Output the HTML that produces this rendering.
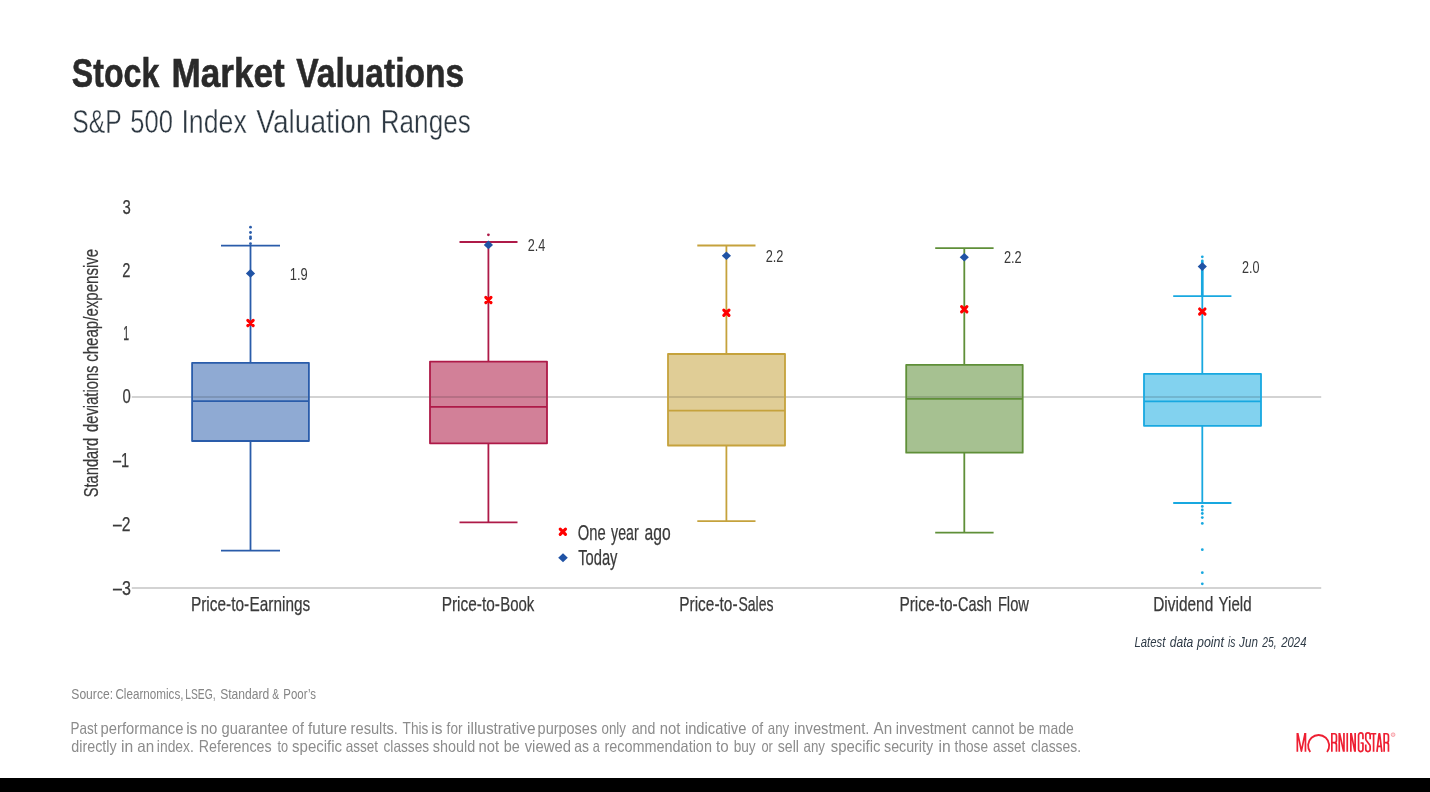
<!DOCTYPE html>
<html lang="en">
<head>
<meta charset="utf-8">
<title>Stock Market Valuations</title>
<style>
html,body{margin:0;padding:0;background:#fff;}
body{width:1430px;height:792px;overflow:hidden;position:relative;font-family:'Liberation Sans', sans-serif;}
svg{position:absolute;left:0;top:0;display:block;will-change:transform;}
svg text{font-family:'Liberation Sans', sans-serif;white-space:pre;}
#bar{position:absolute;left:0;top:778px;width:1430px;height:14px;background:#000;}
</style>
</head>
<body>
<svg width="1430" height="792" viewBox="0 0 1430 792">
<line x1="131.8" x2="1321.2" y1="397.0" y2="397.0" stroke="#d3d3d3" stroke-width="2"/>
<line x1="131.8" x2="1321.2" y1="588.1" y2="588.1" stroke="#d3d3d3" stroke-width="2"/>
<line x1="250.5" x2="250.5" y1="245.7" y2="362.8" stroke="#2a5caa" stroke-width="1.8"/>
<line x1="250.5" x2="250.5" y1="441" y2="550.6" stroke="#2a5caa" stroke-width="1.8"/>
<line x1="221" x2="280" y1="245.7" y2="245.7" stroke="#2a5caa" stroke-width="1.8"/>
<line x1="221" x2="280" y1="550.6" y2="550.6" stroke="#2a5caa" stroke-width="1.8"/>
<rect x="192.1" y="362.8" width="116.8" height="78.2" fill="#8faad3" stroke="#2a5caa" stroke-width="1.8" stroke-linejoin="round"/>
<line x1="193.1" x2="307.9" y1="397.0" y2="397.0" stroke="#000" stroke-opacity="0.13" stroke-width="2"/>
<line x1="192.1" x2="308.9" y1="401.2" y2="401.2" stroke="#2a5caa" stroke-width="1.8"/>
<line x1="488.4" x2="488.4" y1="242.0" y2="361.6" stroke="#ae1a48" stroke-width="1.8"/>
<line x1="488.4" x2="488.4" y1="443.3" y2="522.4" stroke="#ae1a48" stroke-width="1.8"/>
<line x1="459.5" x2="517.5" y1="242.0" y2="242.0" stroke="#ae1a48" stroke-width="1.8"/>
<line x1="459.5" x2="517.5" y1="522.4" y2="522.4" stroke="#ae1a48" stroke-width="1.8"/>
<rect x="430" y="361.6" width="117.0" height="81.7" fill="#d28098" stroke="#ae1a48" stroke-width="1.8" stroke-linejoin="round"/>
<line x1="431" x2="546" y1="397.0" y2="397.0" stroke="#000" stroke-opacity="0.13" stroke-width="2"/>
<line x1="430" x2="547" y1="406.8" y2="406.8" stroke="#ae1a48" stroke-width="1.8"/>
<line x1="726.4" x2="726.4" y1="245.5" y2="354.0" stroke="#c5a23c" stroke-width="1.8"/>
<line x1="726.4" x2="726.4" y1="445.5" y2="521.2" stroke="#c5a23c" stroke-width="1.8"/>
<line x1="697.3" x2="755.5" y1="245.5" y2="245.5" stroke="#c5a23c" stroke-width="1.8"/>
<line x1="697.3" x2="755.5" y1="521.2" y2="521.2" stroke="#c5a23c" stroke-width="1.8"/>
<rect x="668" y="354.0" width="117.0" height="91.5" fill="#e0cd96" stroke="#c5a23c" stroke-width="1.8" stroke-linejoin="round"/>
<line x1="669" x2="784" y1="397.0" y2="397.0" stroke="#000" stroke-opacity="0.13" stroke-width="2"/>
<line x1="668" x2="785" y1="410.6" y2="410.6" stroke="#c5a23c" stroke-width="1.8"/>
<line x1="964.3" x2="964.3" y1="248.2" y2="364.8" stroke="#5f8f38" stroke-width="1.8"/>
<line x1="964.3" x2="964.3" y1="452.7" y2="532.7" stroke="#5f8f38" stroke-width="1.8"/>
<line x1="935.2" x2="993.6" y1="248.2" y2="248.2" stroke="#5f8f38" stroke-width="1.8"/>
<line x1="935.2" x2="993.6" y1="532.7" y2="532.7" stroke="#5f8f38" stroke-width="1.8"/>
<rect x="906.2" y="364.8" width="116.5" height="87.9" fill="#a6c191" stroke="#5f8f38" stroke-width="1.8" stroke-linejoin="round"/>
<line x1="907.2" x2="1021.7" y1="397.0" y2="397.0" stroke="#000" stroke-opacity="0.13" stroke-width="2"/>
<line x1="906.2" x2="1022.7" y1="398.9" y2="398.9" stroke="#5f8f38" stroke-width="1.8"/>
<line x1="1202.3" x2="1202.3" y1="296.1" y2="373.9" stroke="#18a8e0" stroke-width="1.8"/>
<line x1="1202.3" x2="1202.3" y1="425.8" y2="503.0" stroke="#18a8e0" stroke-width="1.8"/>
<line x1="1173.2" x2="1231.4" y1="296.1" y2="296.1" stroke="#18a8e0" stroke-width="1.8"/>
<line x1="1173.2" x2="1231.4" y1="503.0" y2="503.0" stroke="#18a8e0" stroke-width="1.8"/>
<rect x="1144" y="373.9" width="117.0" height="51.9" fill="#82d2ef" stroke="#18a8e0" stroke-width="1.8" stroke-linejoin="round"/>
<line x1="1145" x2="1260" y1="397.0" y2="397.0" stroke="#000" stroke-opacity="0.13" stroke-width="2"/>
<line x1="1144" x2="1261" y1="401.3" y2="401.3" stroke="#18a8e0" stroke-width="1.8"/>
<circle cx="250.5" cy="227.2" r="1.4" fill="#2a5caa"/>
<circle cx="250.5" cy="232.5" r="1.4" fill="#2a5caa"/>
<circle cx="250.5" cy="237.0" r="1.4" fill="#2a5caa"/>
<circle cx="250.5" cy="238.6" r="1.4" fill="#2a5caa"/>
<circle cx="250.5" cy="243.7" r="1.4" fill="#2a5caa"/>
<circle cx="488.4" cy="234.8" r="1.4" fill="#ae1a48"/>
<circle cx="1202.3" cy="256.8" r="1.4" fill="#18a8e0"/>
<line x1="1202.3" x2="1202.3" y1="260.8" y2="296" stroke="#18a8e0" stroke-width="2.7" stroke-linecap="round"/>
<circle cx="1202.3" cy="506.4" r="1.4" fill="#18a8e0"/>
<circle cx="1202.3" cy="510.0" r="1.4" fill="#18a8e0"/>
<circle cx="1202.3" cy="513.5" r="1.4" fill="#18a8e0"/>
<circle cx="1202.3" cy="517.6" r="1.4" fill="#18a8e0"/>
<circle cx="1202.3" cy="523.4" r="1.4" fill="#18a8e0"/>
<circle cx="1202.3" cy="549.7" r="1.4" fill="#18a8e0"/>
<circle cx="1202.3" cy="572.7" r="1.4" fill="#18a8e0"/>
<circle cx="1202.3" cy="583.8" r="1.4" fill="#18a8e0"/>
<path d="M247.8,320.3L253.2,325.6M247.8,325.6L253.2,320.3" stroke="#ff0000" stroke-width="3.1" stroke-linecap="round" fill="none"/>
<path d="M485.8,297.4L491.0,302.6M485.8,302.6L491.0,297.4" stroke="#ff0000" stroke-width="3.1" stroke-linecap="round" fill="none"/>
<path d="M723.8,310.1L729.0,315.3M723.8,315.3L729.0,310.1" stroke="#ff0000" stroke-width="3.1" stroke-linecap="round" fill="none"/>
<path d="M961.6,306.7L966.9,311.9M961.6,311.9L966.9,306.7" stroke="#ff0000" stroke-width="3.1" stroke-linecap="round" fill="none"/>
<path d="M1199.6,309.0L1205.0,314.2M1199.6,314.2L1205.0,309.0" stroke="#ff0000" stroke-width="3.1" stroke-linecap="round" fill="none"/>
<path d="M250.5,269.1L255.1,273.45L250.5,277.8L245.9,273.45Z" fill="#2053a5"/>
<path d="M488.4,240.6L493.0,244.9L488.4,249.2L483.8,244.9Z" fill="#2053a5"/>
<path d="M726.4,251.4L731.0,255.7L726.4,260.0L721.8,255.7Z" fill="#2053a5"/>
<path d="M964.3,253.0L968.9,257.3L964.3,261.6L959.7,257.3Z" fill="#2053a5"/>
<path d="M1202.3,262.3L1206.9,266.6L1202.3,270.9L1197.7,266.6Z" fill="#2053a5"/>
<text x="289.83" y="279.70" font-size="16.86" fill="#3a3a3a" textLength="17.95" lengthAdjust="spacingAndGlyphs">1.9</text>
<text x="527.70" y="251.20" font-size="16.86" fill="#3a3a3a" textLength="17.58" lengthAdjust="spacingAndGlyphs">2.4</text>
<text x="765.70" y="262.20" font-size="16.86" fill="#3a3a3a" textLength="17.79" lengthAdjust="spacingAndGlyphs">2.2</text>
<text x="1003.90" y="263.20" font-size="16.86" fill="#3a3a3a" textLength="17.79" lengthAdjust="spacingAndGlyphs">2.2</text>
<text x="1242.00" y="272.70" font-size="16.86" fill="#3a3a3a" textLength="17.48" lengthAdjust="spacingAndGlyphs">2.0</text>
<text x="122.60" y="213.60" font-size="20.49" fill="#3a3a3a" stroke="#3a3a3a" stroke-width="0.25" textLength="8.29" lengthAdjust="spacingAndGlyphs">3</text>
<text x="122.28" y="277.00" font-size="20.49" fill="#3a3a3a" stroke="#3a3a3a" stroke-width="0.25" textLength="8.20" lengthAdjust="spacingAndGlyphs">2</text>
<text x="123.23" y="340.40" font-size="20.49" fill="#3a3a3a" stroke="#3a3a3a" stroke-width="0.25" textLength="5.87" lengthAdjust="spacingAndGlyphs">1</text>
<text x="122.60" y="403.40" font-size="20.49" fill="#3a3a3a" stroke="#3a3a3a" stroke-width="0.25" textLength="8.29" lengthAdjust="spacingAndGlyphs">0</text>
<text x="113.00" y="466.90" font-size="20.49" fill="#3a3a3a" stroke="#3a3a3a" stroke-width="0.25" textLength="16.18" lengthAdjust="spacingAndGlyphs">–1</text>
<text x="113.00" y="531.00" font-size="20.49" fill="#3a3a3a" stroke="#3a3a3a" stroke-width="0.25" textLength="17.50" lengthAdjust="spacingAndGlyphs">–2</text>
<text x="113.00" y="594.50" font-size="20.49" fill="#3a3a3a" stroke="#3a3a3a" stroke-width="0.25" textLength="17.91" lengthAdjust="spacingAndGlyphs">–3</text>
<g transform="translate(98.0,497.3) rotate(-90)">
<text x="0.00" y="0.00" font-size="20.78" fill="#3a3a3a" stroke="#3a3a3a" stroke-width="0.25" textLength="59.59" lengthAdjust="spacingAndGlyphs">Standard</text>
<text x="65.40" y="0.00" font-size="20.78" fill="#3a3a3a" stroke="#3a3a3a" stroke-width="0.25" textLength="66.37" lengthAdjust="spacingAndGlyphs">deviations</text>
<text x="135.50" y="0.00" font-size="20.78" fill="#3a3a3a" stroke="#3a3a3a" stroke-width="0.25" textLength="113.00" lengthAdjust="spacingAndGlyphs">cheap/expensive</text>
</g>
<text x="190.95" y="610.70" font-size="20.64" fill="#3a3a3a" stroke="#3a3a3a" stroke-width="0.25" textLength="58.30" lengthAdjust="spacingAndGlyphs">Price-to-</text>
<text x="249.56" y="610.70" font-size="20.64" fill="#3a3a3a" stroke="#3a3a3a" stroke-width="0.25" textLength="60.58" lengthAdjust="spacingAndGlyphs">Earnings</text>
<text x="441.65" y="610.70" font-size="20.64" fill="#3a3a3a" stroke="#3a3a3a" stroke-width="0.25" textLength="58.30" lengthAdjust="spacingAndGlyphs">Price-to-</text>
<text x="500.17" y="610.70" font-size="20.64" fill="#3a3a3a" stroke="#3a3a3a" stroke-width="0.25" textLength="34.13" lengthAdjust="spacingAndGlyphs">Book</text>
<text x="679.25" y="610.70" font-size="20.64" fill="#3a3a3a" stroke="#3a3a3a" stroke-width="0.25" textLength="58.30" lengthAdjust="spacingAndGlyphs">Price-to-</text>
<text x="738.50" y="610.70" font-size="20.64" fill="#3a3a3a" stroke="#3a3a3a" stroke-width="0.25" textLength="35.01" lengthAdjust="spacingAndGlyphs">Sales</text>
<text x="899.45" y="610.70" font-size="20.64" fill="#3a3a3a" stroke="#3a3a3a" stroke-width="0.25" textLength="58.30" lengthAdjust="spacingAndGlyphs">Price-to-</text>
<text x="958.00" y="610.70" font-size="20.64" fill="#3a3a3a" stroke="#3a3a3a" stroke-width="0.25" textLength="33.83" lengthAdjust="spacingAndGlyphs">Cash</text>
<text x="997.89" y="610.70" font-size="20.64" fill="#3a3a3a" stroke="#3a3a3a" stroke-width="0.25" textLength="31.04" lengthAdjust="spacingAndGlyphs">Flow</text>
<text x="1153.15" y="610.70" font-size="20.64" fill="#3a3a3a" stroke="#3a3a3a" stroke-width="0.25" textLength="60.10" lengthAdjust="spacingAndGlyphs">Dividend</text>
<text x="1218.60" y="610.70" font-size="20.64" fill="#3a3a3a" stroke="#3a3a3a" stroke-width="0.25" textLength="32.94" lengthAdjust="spacingAndGlyphs">Yield</text>
<path d="M560.2,529.1L565.5,534.4M560.2,534.4L565.5,529.1" stroke="#ff0000" stroke-width="3.1" stroke-linecap="round" fill="none"/>
<path d="M563.0,553.2L567.8,557.7L563.0,562.2L558.2,557.7Z" fill="#2053a5"/>
<text x="577.71" y="539.60" font-size="21.37" fill="#3a3a3a" stroke="#3a3a3a" stroke-width="0.25" textLength="27.90" lengthAdjust="spacingAndGlyphs">One</text>
<text x="611.10" y="539.60" font-size="21.37" fill="#3a3a3a" stroke="#3a3a3a" stroke-width="0.25" textLength="27.57" lengthAdjust="spacingAndGlyphs">year</text>
<text x="644.50" y="539.60" font-size="21.37" fill="#3a3a3a" stroke="#3a3a3a" stroke-width="0.25" textLength="26.14" lengthAdjust="spacingAndGlyphs">ago</text>
<text x="578.20" y="565.30" font-size="21.37" fill="#3a3a3a" stroke="#3a3a3a" stroke-width="0.25" textLength="39.28" lengthAdjust="spacingAndGlyphs">Today</text>
<text x="71.83" y="86.60" font-size="41.57" fill="#2a2a2a" font-weight="bold" stroke="#2a2a2a" stroke-width="0.6" textLength="87.48" lengthAdjust="spacingAndGlyphs">Stock</text>
<text x="171.41" y="86.60" font-size="41.57" fill="#2a2a2a" font-weight="bold" stroke="#2a2a2a" stroke-width="0.6" textLength="113.35" lengthAdjust="spacingAndGlyphs">Market</text>
<text x="296.20" y="86.60" font-size="41.57" fill="#2a2a2a" font-weight="bold" stroke="#2a2a2a" stroke-width="0.6" textLength="168.10" lengthAdjust="spacingAndGlyphs">Valuations</text>
<text x="72.37" y="132.80" font-size="33.87" fill="#2d3842" stroke="#fff" stroke-width="0.4" textLength="49.28" lengthAdjust="spacingAndGlyphs">S&amp;P</text>
<text x="130.35" y="132.80" font-size="33.87" fill="#2d3842" stroke="#fff" stroke-width="0.4" textLength="42.58" lengthAdjust="spacingAndGlyphs">500</text>
<text x="181.43" y="132.80" font-size="33.87" fill="#2d3842" stroke="#fff" stroke-width="0.4" textLength="65.41" lengthAdjust="spacingAndGlyphs">Index</text>
<text x="256.20" y="132.80" font-size="33.87" fill="#2d3842" stroke="#fff" stroke-width="0.4" textLength="115.32" lengthAdjust="spacingAndGlyphs">Valuation</text>
<text x="380.76" y="132.80" font-size="33.87" fill="#2d3842" stroke="#fff" stroke-width="0.4" textLength="89.96" lengthAdjust="spacingAndGlyphs">Ranges</text>
<text x="1134.50" y="647.10" font-size="14.53" fill="#2f3b47" font-style="italic" textLength="30.85" lengthAdjust="spacingAndGlyphs">Latest</text>
<text x="1169.70" y="647.10" font-size="14.53" fill="#2f3b47" font-style="italic" textLength="23.56" lengthAdjust="spacingAndGlyphs">data</text>
<text x="1197.06" y="647.10" font-size="14.53" fill="#2f3b47" font-style="italic" textLength="26.92" lengthAdjust="spacingAndGlyphs">point</text>
<text x="1227.92" y="647.10" font-size="14.53" fill="#2f3b47" font-style="italic" textLength="7.44" lengthAdjust="spacingAndGlyphs">is</text>
<text x="1239.10" y="647.10" font-size="14.53" fill="#2f3b47" font-style="italic" textLength="18.76" lengthAdjust="spacingAndGlyphs">Jun</text>
<text x="1262.36" y="647.10" font-size="14.53" fill="#2f3b47" font-style="italic" textLength="14.31" lengthAdjust="spacingAndGlyphs">25,</text>
<text x="1281.19" y="647.10" font-size="14.53" fill="#2f3b47" font-style="italic" textLength="25.37" lengthAdjust="spacingAndGlyphs">2024</text>
<text x="71.30" y="698.90" font-size="15.12" fill="#858585" textLength="41.76" lengthAdjust="spacingAndGlyphs">Source:</text>
<text x="115.40" y="698.90" font-size="15.12" fill="#858585" textLength="68.13" lengthAdjust="spacingAndGlyphs">Clearnomics,</text>
<text x="185.20" y="698.90" font-size="15.12" fill="#858585" textLength="30.34" lengthAdjust="spacingAndGlyphs">LSEG,</text>
<text x="220.20" y="698.90" font-size="15.12" fill="#858585" textLength="49.12" lengthAdjust="spacingAndGlyphs">Standard</text>
<text x="272.19" y="698.90" font-size="15.12" fill="#858585" textLength="6.87" lengthAdjust="spacingAndGlyphs">&amp;</text>
<text x="283.34" y="698.90" font-size="15.12" fill="#858585" textLength="32.62" lengthAdjust="spacingAndGlyphs">Poor’s</text>
<text x="70.47" y="733.50" font-size="16.28" fill="#8c8c8c" textLength="26.93" lengthAdjust="spacingAndGlyphs">Past</text>
<text x="100.59" y="733.50" font-size="16.28" fill="#8c8c8c" textLength="82.85" lengthAdjust="spacingAndGlyphs">performance</text>
<text x="186.15" y="733.50" font-size="16.28" fill="#8c8c8c" textLength="11.18" lengthAdjust="spacingAndGlyphs">is</text>
<text x="200.78" y="733.50" font-size="16.28" fill="#8c8c8c" textLength="16.66" lengthAdjust="spacingAndGlyphs">no</text>
<text x="221.60" y="733.50" font-size="16.28" fill="#8c8c8c" textLength="66.24" lengthAdjust="spacingAndGlyphs">guarantee</text>
<text x="292.10" y="733.50" font-size="16.28" fill="#8c8c8c" textLength="11.69" lengthAdjust="spacingAndGlyphs">of</text>
<text x="308.00" y="733.50" font-size="16.28" fill="#8c8c8c" textLength="39.04" lengthAdjust="spacingAndGlyphs">future</text>
<text x="350.60" y="733.50" font-size="16.28" fill="#8c8c8c" textLength="47.27" lengthAdjust="spacingAndGlyphs">results.</text>
<text x="402.60" y="733.50" font-size="16.28" fill="#8c8c8c" textLength="25.81" lengthAdjust="spacingAndGlyphs">This</text>
<text x="431.35" y="733.50" font-size="16.28" fill="#8c8c8c" textLength="11.18" lengthAdjust="spacingAndGlyphs">is</text>
<text x="446.60" y="733.50" font-size="16.28" fill="#8c8c8c" textLength="15.91" lengthAdjust="spacingAndGlyphs">for</text>
<text x="467.05" y="733.50" font-size="16.28" fill="#8c8c8c" textLength="68.49" lengthAdjust="spacingAndGlyphs">illustrative</text>
<text x="537.61" y="733.50" font-size="16.28" fill="#8c8c8c" textLength="59.51" lengthAdjust="spacingAndGlyphs">purposes</text>
<text x="601.50" y="733.50" font-size="16.28" fill="#8c8c8c" textLength="24.49" lengthAdjust="spacingAndGlyphs">only</text>
<text x="631.70" y="733.50" font-size="16.28" fill="#8c8c8c" textLength="23.61" lengthAdjust="spacingAndGlyphs">and</text>
<text x="659.69" y="733.50" font-size="16.28" fill="#8c8c8c" textLength="20.67" lengthAdjust="spacingAndGlyphs">not</text>
<text x="684.89" y="733.50" font-size="16.28" fill="#8c8c8c" textLength="61.45" lengthAdjust="spacingAndGlyphs">indicative</text>
<text x="751.40" y="733.50" font-size="16.28" fill="#8c8c8c" textLength="11.69" lengthAdjust="spacingAndGlyphs">of</text>
<text x="767.80" y="733.50" font-size="16.28" fill="#8c8c8c" textLength="21.39" lengthAdjust="spacingAndGlyphs">any</text>
<text x="794.09" y="733.50" font-size="16.28" fill="#8c8c8c" textLength="75.38" lengthAdjust="spacingAndGlyphs">investment.</text>
<text x="873.50" y="733.50" font-size="16.28" fill="#8c8c8c" textLength="18.58" lengthAdjust="spacingAndGlyphs">An</text>
<text x="895.80" y="733.50" font-size="16.28" fill="#8c8c8c" textLength="70.47" lengthAdjust="spacingAndGlyphs">investment</text>
<text x="971.70" y="733.50" font-size="16.28" fill="#8c8c8c" textLength="42.38" lengthAdjust="spacingAndGlyphs">cannot</text>
<text x="1018.61" y="733.50" font-size="16.28" fill="#8c8c8c" textLength="16.03" lengthAdjust="spacingAndGlyphs">be</text>
<text x="1038.84" y="733.50" font-size="16.28" fill="#8c8c8c" textLength="34.90" lengthAdjust="spacingAndGlyphs">made</text>
<text x="71.30" y="751.70" font-size="16.28" fill="#8c8c8c" textLength="45.34" lengthAdjust="spacingAndGlyphs">directly</text>
<text x="120.93" y="751.70" font-size="16.28" fill="#8c8c8c" textLength="12.18" lengthAdjust="spacingAndGlyphs">in</text>
<text x="137.30" y="751.70" font-size="16.28" fill="#8c8c8c" textLength="16.88" lengthAdjust="spacingAndGlyphs">an</text>
<text x="156.85" y="751.70" font-size="16.28" fill="#8c8c8c" textLength="36.99" lengthAdjust="spacingAndGlyphs">index.</text>
<text x="198.82" y="751.70" font-size="16.28" fill="#8c8c8c" textLength="72.79" lengthAdjust="spacingAndGlyphs">References</text>
<text x="277.48" y="751.70" font-size="16.28" fill="#8c8c8c" textLength="10.68" lengthAdjust="spacingAndGlyphs">to</text>
<text x="292.10" y="751.70" font-size="16.28" fill="#8c8c8c" textLength="50.02" lengthAdjust="spacingAndGlyphs">specific</text>
<text x="345.70" y="751.70" font-size="16.28" fill="#8c8c8c" textLength="32.40" lengthAdjust="spacingAndGlyphs">asset</text>
<text x="383.50" y="751.70" font-size="16.28" fill="#8c8c8c" textLength="45.61" lengthAdjust="spacingAndGlyphs">classes</text>
<text x="432.80" y="751.70" font-size="16.28" fill="#8c8c8c" textLength="42.43" lengthAdjust="spacingAndGlyphs">should</text>
<text x="478.49" y="751.70" font-size="16.28" fill="#8c8c8c" textLength="20.57" lengthAdjust="spacingAndGlyphs">not</text>
<text x="503.71" y="751.70" font-size="16.28" fill="#8c8c8c" textLength="16.03" lengthAdjust="spacingAndGlyphs">be</text>
<text x="524.70" y="751.70" font-size="16.28" fill="#8c8c8c" textLength="46.26" lengthAdjust="spacingAndGlyphs">viewed</text>
<text x="574.30" y="751.70" font-size="16.28" fill="#8c8c8c" textLength="14.71" lengthAdjust="spacingAndGlyphs">as</text>
<text x="592.86" y="751.70" font-size="16.28" fill="#8c8c8c" textLength="7.12" lengthAdjust="spacingAndGlyphs">a</text>
<text x="604.41" y="751.70" font-size="16.28" fill="#8c8c8c" textLength="107.52" lengthAdjust="spacingAndGlyphs">recommendation</text>
<text x="716.00" y="751.70" font-size="16.28" fill="#8c8c8c" textLength="12.64" lengthAdjust="spacingAndGlyphs">to</text>
<text x="733.66" y="751.70" font-size="16.28" fill="#8c8c8c" textLength="22.01" lengthAdjust="spacingAndGlyphs">buy</text>
<text x="761.48" y="751.70" font-size="16.28" fill="#8c8c8c" textLength="11.39" lengthAdjust="spacingAndGlyphs">or</text>
<text x="777.80" y="751.70" font-size="16.28" fill="#8c8c8c" textLength="21.23" lengthAdjust="spacingAndGlyphs">sell</text>
<text x="803.50" y="751.70" font-size="16.28" fill="#8c8c8c" textLength="21.49" lengthAdjust="spacingAndGlyphs">any</text>
<text x="830.70" y="751.70" font-size="16.28" fill="#8c8c8c" textLength="49.72" lengthAdjust="spacingAndGlyphs">specific</text>
<text x="884.00" y="751.70" font-size="16.28" fill="#8c8c8c" textLength="49.14" lengthAdjust="spacingAndGlyphs">security</text>
<text x="938.58" y="751.70" font-size="16.28" fill="#8c8c8c" textLength="12.18" lengthAdjust="spacingAndGlyphs">in</text>
<text x="954.60" y="751.70" font-size="16.28" fill="#8c8c8c" textLength="33.44" lengthAdjust="spacingAndGlyphs">those</text>
<text x="993.00" y="751.70" font-size="16.28" fill="#8c8c8c" textLength="32.40" lengthAdjust="spacingAndGlyphs">asset</text>
<text x="1030.90" y="751.70" font-size="16.28" fill="#8c8c8c" textLength="50.24" lengthAdjust="spacingAndGlyphs">classes.</text>
<path d="M1297.35,751.8V732.9M1305.45,751.8V732.9M1297.70,733.1999999999999L1301.40,751.1999999999999L1305.10,733.1999999999999M1331.85,751.8V732.9M1331.85,733.75H1334.45Q1336.45,733.75 1336.45,735.95V740.20Q1336.45,742.60 1334.45,742.60H1331.85M1334.25,742.60Q1336.45,742.60 1336.45,745.00V751.8M1339.25,751.8V732.9M1343.95,751.8V732.9M1339.55,733.1L1343.65,751.5999999999999M1347.25,751.8V732.9M1350.85,751.8V732.9M1355.15,751.8V732.9M1351.15,733.1L1354.85,751.5999999999999M1362.95,739.2V735.15A2.20,2.20 0 0 0 1358.55,735.15V749.35A2.20,2.20 0 0 0 1362.95,749.35V743.00H1360.55M1370.15,739.2V735.15A2.20,2.20 0 0 0 1365.75,735.15V738.6Q1365.75,740.2 1366.75,741.0L1369.15,744.2Q1370.15,745.0 1370.15,746.6V749.35A2.20,2.20 0 0 1 1365.75,749.35V744.6M1370.8,733.75H1376.3M1373.6,732.9V751.8M1376.95,751.8L1379.05,733.8H1379.65L1381.85,751.8M1377.6,746.3H1381.2M1384.15,751.8V732.9M1384.15,733.75H1386.45Q1388.45,733.75 1388.45,735.95V740.20Q1388.45,742.60 1386.45,742.60H1384.15M1386.25,742.60Q1388.45,742.60 1388.45,745.00V751.8" fill="none" stroke="#ee1f32" stroke-width="1.7" stroke-linejoin="round"/>
<path d="M1310.25,751.95A10.55,10.55 0 1 1 1327.05,751.95" fill="none" stroke="#ee1f32" stroke-width="1.8"/>
<circle cx="1393.1" cy="734.7" r="1.9" fill="#ee1f32" fill-opacity="0.18" stroke="#ee1f32" stroke-width="0.7" stroke-opacity="0.45"/>
</svg>
<div id="bar"></div>
</body>
</html>
